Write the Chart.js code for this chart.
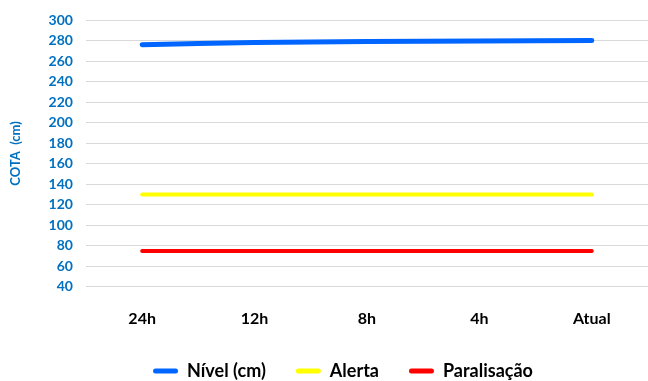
<!DOCTYPE html>
<html>
<head>
<meta charset="utf-8">
<script src="https://cdn.jsdelivr.net/npm/chart.js@4"></script>
<style>
  html, body { margin: 0; padding: 0; background: #fff; }
  #wrap { width: 648px; height: 381px; }
</style>
</head>
<body>
<div id="wrap"><canvas id="nivelChart" width="648" height="381"></canvas></div>
<script>
// leituras da régua
const horarios = ['24h', '12h', '8h', '4h', 'Atual'];
const nivel = [276, 278, 279, 279.5, 280];
const alerta = [130, 130, 130, 130, 130];
const paralisacao = [75, 75, 75, 75, 75];
const yMin = 40;
const yMax = 300;
const yStep = 20;

const fonte = 'Lato, "Liberation Sans", sans-serif';

// empurra a legenda um pouco para a direita, como no original
const deslocaLegenda = {
    id: 'deslocaLegenda',
    afterLayout(chart) {
        if (!chart.legend) return;
        chart.legend.left += 15;
        chart.legend.right += 15;
    }
};

function initializeNivelChart() {
    const ctx = document.getElementById('nivelChart');
    if (!ctx) return;

    new Chart(ctx, {
        type: 'line',
        data: {
            labels: horarios,
            datasets: [{
                label: 'Nível (cm)',
                data: nivel,
                borderColor: '#0066FF',
                backgroundColor: '#0066FF',
                borderWidth: 5,
                borderCapStyle: 'round',
                tension: 0.3,
                pointRadius: 0
            }, {
                label: 'Alerta',
                data: alerta,
                borderColor: '#FFFF00',
                backgroundColor: '#FFFF00',
                borderWidth: 4,
                borderCapStyle: 'round',
                pointRadius: 0
            }, {
                label: 'Paralisação',
                data: paralisacao,
                borderColor: '#FF0000',
                backgroundColor: '#FF0000',
                borderWidth: 4,
                borderCapStyle: 'round',
                pointRadius: 0
            }]
        },
        options: {
            responsive: false,
            animation: false,
            layout: {
                padding: { left: 8, right: 0, top: 18, bottom: -9 }
            },
            scales: {
                x: {
                    offset: true,
                    grid: { display: false, drawTicks: false },
                    border: { display: false },
                    ticks: {
                        color: '#000',
                        padding: 22,
                        font: { family: fonte, size: 16, weight: 'bold' }
                    }
                },
                y: {
                    min: yMin,
                    max: yMax,
                    grid: { color: '#D9D9D9', lineWidth: 1, drawTicks: false },
                    border: { display: false },
                    ticks: {
                        stepSize: yStep,
                        autoSkip: false,
                        color: '#0070C0',
                        padding: 13,
                        font: { family: fonte, size: 14, weight: 'bold', lineHeight: 1 }
                    },
                    title: {
                        display: true,
                        text: 'COTA  (cm)',
                        color: '#0070C0',
                        padding: { top: 0, bottom: 12 },
                        font: { family: fonte, size: 13, weight: 'bold' }
                    }
                }
            },
            plugins: {
                legend: {
                    position: 'bottom',
                    labels: {
                        boxWidth: 25,
                        boxHeight: 5,
                        padding: 12,
                        color: '#000',
                        useBorderRadius: true,
                        borderRadius: 2.5,
                        font: { family: fonte, size: 18, weight: 'bold' },
                        generateLabels: function(chart) {
                            const items = Chart.defaults.plugins.legend.labels.generateLabels(chart);
                            items.forEach(function(item, i) {
                                item.lineWidth = 0;
                                // espaço extra entre os itens da legenda
                                if (i < items.length - 1) item.text += '\u2002\u2002';
                            });
                            return items;
                        }
                    }
                },
                tooltip: { enabled: false }
            }
        },
        plugins: [deslocaLegenda]
    });
}

initializeNivelChart();
</script>
</body>
</html>
